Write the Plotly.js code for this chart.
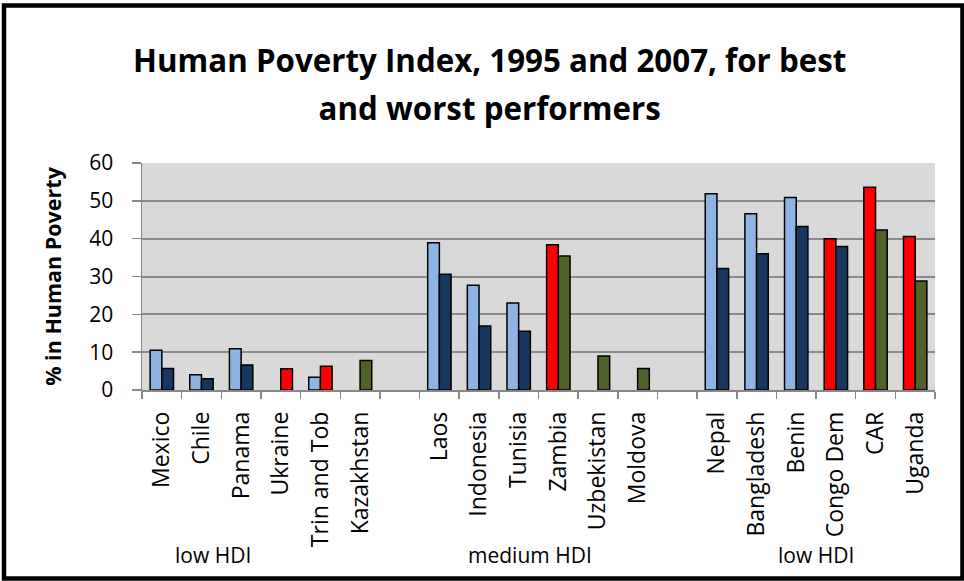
<!DOCTYPE html>
<html>
<head>
<meta charset="utf-8">
<script src="https://cdn.plot.ly/plotly-3.0.1.min.js"></script>
<style>html,body{margin:0;padding:0;background:#fff;}#chart{width:964px;height:581px;}</style>
</head>
<body>
<div id="chart"></div>
<script>
// Categories (blank entries are the gaps between HDI groups)
const countries = ['Mexico','Chile','Panama','Ukraine','Trin and Tob','Kazakhstan',' ',
  'Laos','Indonesia','Tunisia','Zambia','Uzbekistan','Moldova','  ',
  'Nepal','Bangladesh','Benin','Congo Dem','CAR','Uganda'];
// % in human poverty
const hpi1995 = [10.5,4.0,10.9,null,3.4,null,null,38.9,27.7,23.0,38.4,null,null,null,51.9,46.6,50.9,40.0,53.6,40.6];
const hpi2007 = [5.7,3.0,6.6,5.6,6.3,7.8,null,30.6,16.9,15.5,35.4,9.0,5.7,null,32.1,36.0,43.2,37.9,42.3,28.8];
// Group labels
const groupLabels = ['low HDI','medium HDI','low HDI'];
const groupCenters = [1.28, 9.28, 16.5];

// Styles
const LB = '#8EB4E3', NV = '#17375E', RD = '#FF0000', GR = '#4F6228';
const colors1995 = [LB,LB,LB,LB,LB,LB,LB,LB,LB,LB,RD,RD,RD,RD,LB,LB,LB,RD,RD,RD];
const colors2007 = [NV,NV,NV,RD,RD,GR,GR,NV,NV,NV,GR,GR,GR,GR,NV,NV,NV,NV,GR,GR];

const font = 'Open Sans, Noto Sans, sans-serif';

const traces = [
  {type:'bar', name:'1995', x:countries, y:hpi1995,
   marker:{color:colors1995, line:{color:'#000', width:1.5}}, hoverinfo:'x+y'},
  {type:'bar', name:'2007', x:countries, y:hpi2007,
   marker:{color:colors2007, line:{color:'#000', width:1.5}}, hoverinfo:'x+y'}
];

const annotations = groupLabels.map((t,i)=>({
  text:t, x:groupCenters[i], xref:'x', y:-0.727, yref:'paper',
  xanchor:'center', yanchor:'middle', showarrow:false,
  font:{family:font, size:21, color:'#000'}
}));

const layout = {
  width:964, height:581,
  margin:{l:142, r:29, t:163, b:191, pad:0},
  paper_bgcolor:'#fff', plot_bgcolor:'#D9D9D9',
  showlegend:false,
  barmode:'group', bargap:0.41, bargroupgap:0,
  title:{
    text:'<span style="font-size:31.3px">Human Poverty Index, 1995 and 2007, for best</span><br><span style="font-size:31.3px">and worst performers</span>',
    font:{family:font, size:37, color:'#000', weight:'bold'},
    x:0.508, xref:'container', xanchor:'center',
    y:0.876, yref:'container', yanchor:'top'
  },
  xaxis:{
    type:'category', categoryorder:'array', categoryarray:countries,
    tickson:'boundaries', ticks:'outside', ticklen:7, tickcolor:'#888', tickwidth:1.5,
    showline:true, linecolor:'#888', linewidth:1.5,
    showgrid:false, tickangle:-90,
    tickfont:{family:font, size:23, color:'#000'},
    ticklabelstandoff:11, fixedrange:true
  },
  yaxis:{
    range:[0,60], dtick:10, tick0:0,
    ticks:'outside', ticklen:9, tickcolor:'#888', tickwidth:1.5,
    showline:true, linecolor:'#888', linewidth:1.5,
    showgrid:true, gridcolor:'#8a8a8a', gridwidth:2, zeroline:false,
    tickfont:{family:font, size:21, color:'#000'},
    ticklabelstandoff:14,
    title:{text:'% in Human Poverty', font:{family:font, size:21.5, color:'#000', weight:'bold'}, standoff:22},
    fixedrange:true
  },
  annotations:annotations,
  shapes:[{type:'rect', xref:'paper', yref:'paper',
    x0:(4-142)/793, x1:(962.5-142)/793, y0:(390-578.5)/227, y1:(390-5.5)/227,
    line:{color:'#000', width:4.5}, fillcolor:'rgba(0,0,0,0)', layer:'above'}]
};

Plotly.newPlot('chart', traces, layout, {displayModeBar:false, staticPlot:true});
</script>
</body>
</html>
